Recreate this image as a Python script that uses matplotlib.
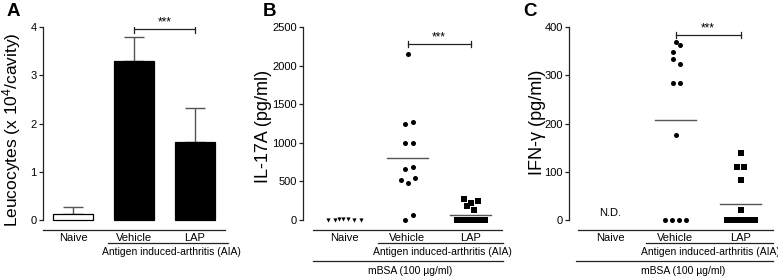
import numpy as np
import matplotlib
matplotlib.use('Agg')
import matplotlib.pyplot as plt
from matplotlib.lines import Line2D

plt.rcParams['font.family'] = ['Liberation Sans', 'DejaVu Sans']
plt.rcParams['mathtext.fontset'] = 'custom'
plt.rcParams['mathtext.rm'] = 'Liberation Sans'
plt.rcParams['mathtext.it'] = 'Liberation Sans'

# データ
groups = ['Naive', 'Vehicle', 'LAP']

leuco_mean = [0.12, 3.30, 1.62]
leuco_err = [0.15, 0.50, 0.71]

il17_naive = [5, 0, 12, 18, 8, 0, 0]
il17_vehicle = [2150, 1270, 1250, 1000, 1000, 690, 660, 550, 520, 480, 70, 0]
il17_lap = [270, 250, 225, 175, 130, 0, 0, 0, 0, 0, 0, 0, 0, 0, 0, 0]

ifng_vehicle = [368, 363, 348, 333, 323, 284, 284, 177, 0, 0, 0, 0]
ifng_lap = [139, 110, 109, 84, 21, 0, 0, 0, 0, 0, 0, 0, 0, 0]

# 散布の横ずれ（ピクセル）
il17_naive_dx = [-17, -10, -6, -2, 3, 9, 16]
il17_vehicle_dx = [0, 5, -3, -3, 5, 5, -3, 7, -7, 0, 5, -3]
il17_lap_dx = [-7, 7, 0, -4, 3] + list(np.linspace(-14, 14, 11))
ifng_vehicle_dx = [0, 4, -3, -3, 4, -3, 4, 0, -10.5, -3.5, 3.5, 10.5]
ifng_lap_dx = [0, -4, 3, 0, 0] + list(np.linspace(-14, 14, 9))

W, H = 778, 279
fig = plt.figure(figsize=(W / 100, H / 100), dpi=100)

LINE = '#222222'
GRAY = '#555555'


def px_axes(left, right, top, bottom):
    return fig.add_axes([left / W, 1 - bottom / H, (right - left) / W, (bottom - top) / H])


def hline(x0, x1, y):
    fig.add_artist(Line2D([x0 / W, x1 / W], [1 - y / H, 1 - y / H],
                          transform=fig.transFigure, color=LINE, lw=0.9))


def ftext(x, y, s, size=7.5, **kw):
    fig.text(x / W, 1 - y / H, s, fontsize=size, ha='center', va='center', **kw)


def style(ax, ymax, yticks, xleft):
    for s in ['top', 'right']:
        ax.spines[s].set_visible(False)
    ax.spines['left'].set_bounds(0, ymax)
    ax.spines['bottom'].set_bounds(-0.5, 2.5)
    for s in ['left', 'bottom']:
        ax.spines[s].set_linewidth(0.9)
        ax.spines[s].set_color(LINE)
    ax.set_yticks(yticks)
    ax.tick_params(axis='y', length=3, width=0.9, pad=1.5, labelsize=8, color=LINE)
    ax.set_xticks([0, 1, 2])
    ax.set_xticklabels(groups)
    ax.tick_params(axis='x', length=0, pad=2.5, labelsize=8)
    ax.set_xlim(xleft, 2.5)


def sig(ax, y, cap):
    ax.plot([1, 2], [y, y], color=LINE, lw=0.9)
    for xx in [1, 2]:
        ax.plot([xx, xx], [y - cap, y + cap], color=LINE, lw=0.9)
    ax.text(1.5, y + cap * 0.2, '***', ha='center', va='bottom', fontsize=8.5)


# A
axA = px_axes(43, 225, 27, 230)
x = np.arange(3)
axA.bar(x, leuco_mean, width=0.66, color=['white', 'black', 'black'],
        edgecolor='black', linewidth=0.9, zorder=2)
axA.errorbar(x, leuco_mean, yerr=[[0, 0, 0], leuco_err], fmt='none',
             ecolor=GRAY, elinewidth=1.0, capsize=7.2, capthick=1.0, zorder=1)
axA.set_ylim(-10 / 48.25, 4)
style(axA, 4, [0, 1, 2, 3, 4], -0.5)
sig(axA, 3.95, 0.07)

# B
axB = px_axes(303, 502, 27, 230)
u = 63.0
axB.scatter(0 + np.array(il17_naive_dx) / u, il17_naive, marker='v', s=9, color='black', lw=0)
axB.scatter(1 + np.array(il17_vehicle_dx) / u, il17_vehicle, marker='o', s=13, color='black', lw=0)
axB.scatter(2 + np.array(il17_lap_dx) / u, il17_lap, marker='s', s=14, color='black', lw=0)
for i, vals in [(1, il17_vehicle), (2, il17_lap)]:
    axB.plot([i - 0.32, i + 0.32], [np.mean(vals)] * 2, color=GRAY, lw=1.0)
axB.set_ylim(-10 / 0.0772, 2500)
style(axB, 2500, [0, 500, 1000, 1500, 2000, 2500], -0.5 - 10 / u)
sig(axB, 2280, 40)

# C
axC = px_axes(569, 773, 27, 230)
u = 65.0
axC.scatter(1 + np.array(ifng_vehicle_dx) / u, ifng_vehicle, marker='o', s=13, color='black', lw=0)
axC.scatter(2 + np.array(ifng_lap_dx) / u, ifng_lap, marker='s', s=14, color='black', lw=0)
for i, vals in [(1, ifng_vehicle), (2, ifng_lap)]:
    axC.plot([i - 0.32, i + 0.32], [np.mean(vals)] * 2, color=GRAY, lw=1.0)
axC.text(0, 5, 'N.D.', ha='center', va='bottom', fontsize=8)
axC.set_ylim(-10 / 0.485, 400)
style(axC, 400, [0, 100, 200, 300, 400], -0.5 - 9 / u)
sig(axC, 383, 6)

# 下のグループ線とラベル
hline(108, 228, 243)
ftext(171, 252, 'Antigen induced-arthritis (AIA)')

hline(378, 503, 243)
ftext(442, 252, 'Antigen induced-arthritis (AIA)')
hline(313, 503, 261)
ftext(410, 271, 'mBSA (100 µg/ml)')

hline(646, 773, 243)
ftext(710, 252, 'Antigen induced-arthritis (AIA)')
hline(576, 773, 261)
ftext(683, 271, 'mBSA (100 µg/ml)')

# 縦軸ラベル
ftext(12, 130, 'Leucocytes (x 10$^4$/cavity)', size=12.5, rotation=90)
ftext(263, 126, 'IL-17A (pg/ml)', size=13, rotation=90)
ftext(537, 122, 'IFN-γ (pg/ml)', size=13, rotation=90)

# パネル記号
for px, lab in [(13, 'A'), (269, 'B'), (530, 'C')]:
    ftext(px, 12, lab, size=13.5, fontweight='bold')

plt.savefig('out.png', dpi=100)
